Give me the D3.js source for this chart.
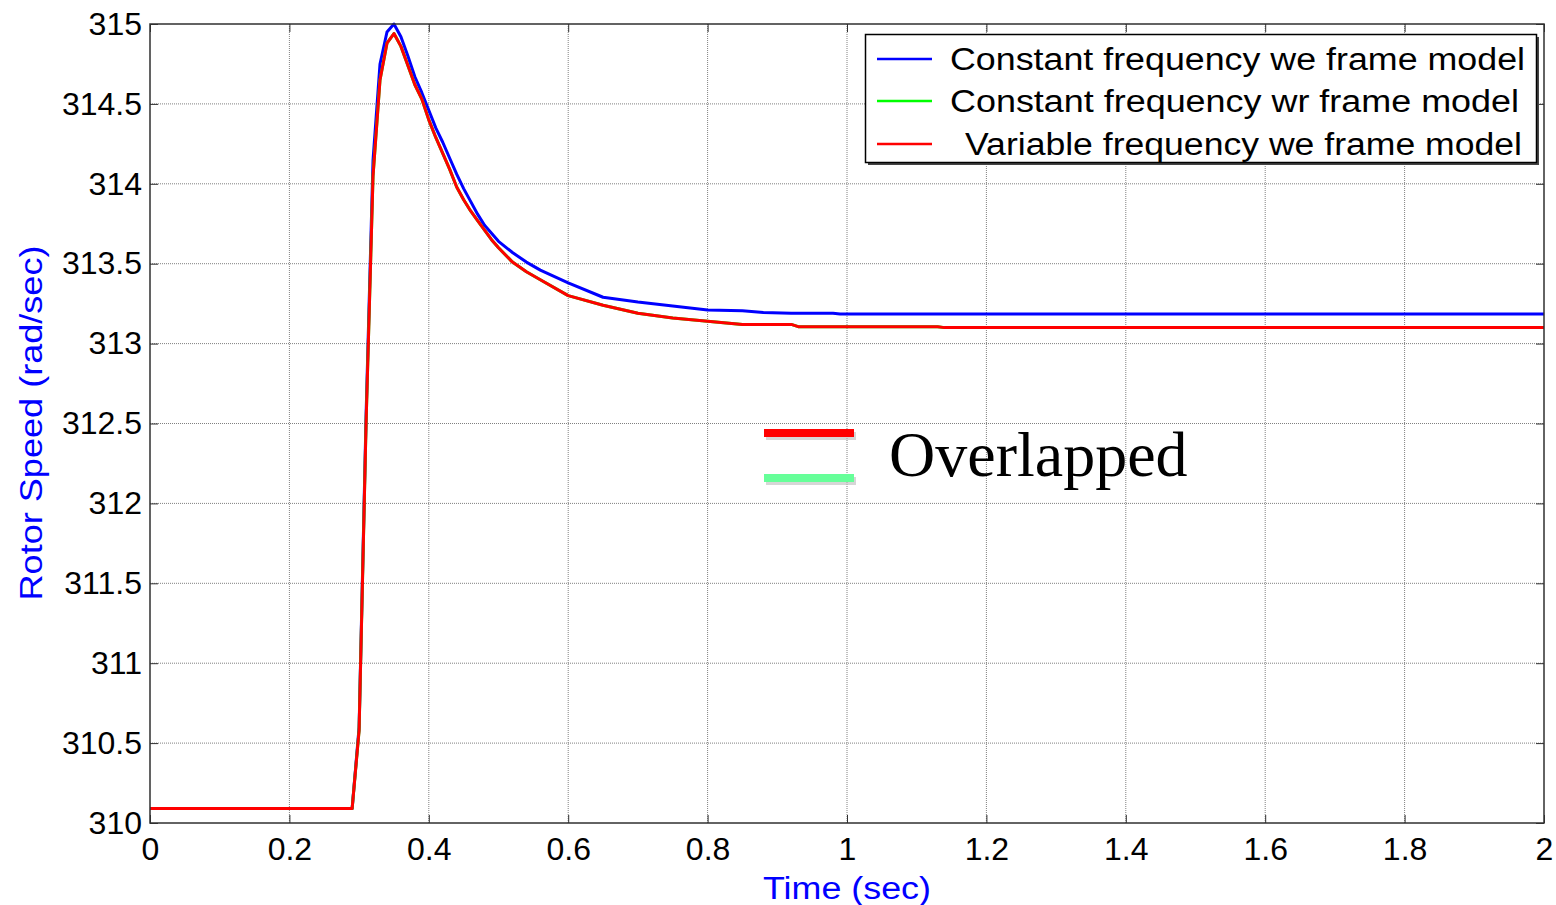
<!DOCTYPE html>
<html>
<head>
<meta charset="utf-8">
<script src="https://cdn.jsdelivr.net/npm/d3@7/dist/d3.min.js"></script>
<style>
  html, body { margin: 0; padding: 0; background: #fff; }
  svg { display: block; }
</style>
</head>
<body>
<svg id="chart" width="1556" height="905"></svg>
<script>
// ---- data ----
const time = [0, 0.29, 0.30, 0.31, 0.32, 0.33, 0.34, 0.35, 0.36, 0.37, 0.38, 0.39, 0.40, 0.41, 0.42, 0.43, 0.44, 0.45, 0.46, 0.47, 0.48, 0.49, 0.50, 0.52, 0.54, 0.56, 0.60, 0.65, 0.70, 0.75, 0.80, 0.85, 0.88, 0.92, 0.93, 0.98, 0.99, 1.13, 1.14, 2.0];
const constWe = [310.09, 310.09, 310.60, 312.55, 314.15, 314.75, 314.95, 315.00, 314.92, 314.80, 314.67, 314.57, 314.46, 314.35, 314.26, 314.16, 314.06, 313.97, 313.89, 313.81, 313.74, 313.69, 313.64, 313.57, 313.51, 313.46, 313.38, 313.29, 313.26, 313.235, 313.21, 313.205, 313.195, 313.19, 313.19, 313.19, 313.185, 313.185, 313.185, 313.185];
const constWr = [310.09, 310.09, 310.58, 312.50, 314.05, 314.65, 314.88, 314.94, 314.86, 314.74, 314.62, 314.53, 314.40, 314.29, 314.19, 314.09, 313.98, 313.90, 313.83, 313.77, 313.71, 313.65, 313.60, 313.51, 313.45, 313.40, 313.30, 313.24, 313.19, 313.16, 313.14, 313.12, 313.12, 313.12, 313.106, 313.106, 313.106, 313.106, 313.10, 313.10];
const varWe   = [310.09, 310.09, 310.58, 312.50, 314.05, 314.65, 314.88, 314.94, 314.86, 314.74, 314.62, 314.53, 314.40, 314.29, 314.19, 314.09, 313.98, 313.90, 313.83, 313.77, 313.71, 313.65, 313.60, 313.51, 313.45, 313.40, 313.30, 313.24, 313.19, 313.16, 313.14, 313.12, 313.12, 313.12, 313.106, 313.106, 313.106, 313.106, 313.10, 313.10];
const seriesNames = ["Constant frequency we frame model", "Constant frequency wr frame model", " Variable frequency we frame model"];
const seriesColors = ["#0000ff", "#00ff00", "#ff0000"];
const xTicks = [0, 0.2, 0.4, 0.6, 0.8, 1, 1.2, 1.4, 1.6, 1.8, 2];
const xTickLabels = ["0", "0.2", "0.4", "0.6", "0.8", "1", "1.2", "1.4", "1.6", "1.8", "2"];
const yTicks = [310, 310.5, 311, 311.5, 312, 312.5, 313, 313.5, 314, 314.5, 315];
const yTickLabels = ["310", "310.5", "311", "311.5", "312", "312.5", "313", "313.5", "314", "314.5", "315"];
const xTitle = "Time (sec)";
const yTitle = "Rotor Speed (rad/sec)";
const noteText = "Overlapped";

// ---- layout ----
const L = 150, R = 1544, T = 24, B = 823;
const svg = d3.select("#chart");
const x = d3.scaleLinear().domain([0, 2]).range([L, R]);
const y = d3.scaleLinear().domain([310, 315]).range([B, T]);
const font = "'Liberation Sans', Arial, sans-serif";

// grid
const grid = svg.append("g");
grid.selectAll("line.vx").data(xTicks.slice(1, -1)).join("line")
  .attr("x1", d => x(d)).attr("x2", d => x(d)).attr("y1", T).attr("y2", B)
  .attr("stroke", "#808080").attr("stroke-width", 1).attr("stroke-dasharray", "1,1");
grid.selectAll("line.hy").data(yTicks.slice(1, -1)).join("line")
  .attr("y1", d => y(d)).attr("y2", d => y(d)).attr("x1", L).attr("x2", R)
  .attr("stroke", "#808080").attr("stroke-width", 1).attr("stroke-dasharray", "1,1");

// lines
const line = d3.line().x((d, i) => x(time[i])).y(d => y(d)).curve(d3.curveLinear);
const allSeries = [constWe, constWr, varWe];
svg.append("g").selectAll("path").data(allSeries).join("path")
  .attr("d", d => line(d))
  .attr("fill", "none")
  .attr("stroke", (d, i) => seriesColors[i])
  .attr("stroke-width", 3)
  .attr("stroke-linejoin", "round");

// axes frame
svg.append("rect").attr("x", L).attr("y", T).attr("width", R - L).attr("height", B - T)
  .attr("fill", "none").attr("stroke", "#303030").attr("stroke-width", 1.5);

const xAxis = d3.axisBottom(x).tickValues(xTicks).tickFormat((d, i) => xTickLabels[i]).tickSizeInner(-8).tickSizeOuter(0).tickPadding(14);
const gx = svg.append("g").attr("transform", `translate(0,${B})`).call(xAxis);
gx.select(".domain").remove();
gx.selectAll(".tick line").attr("stroke", "#303030");
gx.selectAll("text").attr("font-family", font).attr("font-size", 32).attr("fill", "#000");

const xAxisTop = d3.axisTop(x).tickValues(xTicks).tickFormat("").tickSizeInner(-8).tickSizeOuter(0);
const gxt = svg.append("g").attr("transform", `translate(0,${T})`).call(xAxisTop);
gxt.select(".domain").remove();
gxt.selectAll(".tick line").attr("stroke", "#303030");

const yAxis = d3.axisLeft(y).tickValues(yTicks).tickFormat((d, i) => yTickLabels[i]).tickSizeInner(-8).tickSizeOuter(0).tickPadding(8);
const gy = svg.append("g").attr("transform", `translate(${L},0)`).call(yAxis);
gy.select(".domain").remove();
gy.selectAll(".tick line").attr("stroke", "#303030");
gy.selectAll("text").attr("font-family", font).attr("font-size", 32).attr("fill", "#000");

const yAxisRight = d3.axisRight(y).tickValues(yTicks).tickFormat("").tickSizeInner(-8).tickSizeOuter(0);
const gyr = svg.append("g").attr("transform", `translate(${R},0)`).call(yAxisRight);
gyr.select(".domain").remove();
gyr.selectAll(".tick line").attr("stroke", "#303030");

// axis titles
svg.append("text").attr("x", (L + R) / 2).attr("y", 899).attr("text-anchor", "middle")
  .attr("font-family", font).attr("font-size", 31).attr("fill", "#0000ff")
  .attr("textLength", 168).attr("lengthAdjust", "spacingAndGlyphs").text(xTitle);
svg.append("text").attr("transform", `translate(42,${423}) rotate(-90)`).attr("text-anchor", "middle")
  .attr("font-family", font).attr("font-size", 31).attr("fill", "#0000ff")
  .attr("textLength", 355).attr("lengthAdjust", "spacingAndGlyphs").text(yTitle);

// legend
const lg = svg.append("g");
lg.append("rect").attr("x", 868).attr("y", 37).attr("width", 671).attr("height", 128).attr("fill", "#444");
lg.append("rect").attr("x", 865.5).attr("y", 34.5).attr("width", 671).attr("height", 128)
  .attr("fill", "#fff").attr("stroke", "#000").attr("stroke-width", 1.5);
const rowY = [59, 101, 144];
const textStart = [950, 950, 965];
const textLen = [575, 569, 557];
seriesNames.forEach((name, i) => {
  lg.append("line").attr("x1", 877).attr("x2", 932).attr("y1", rowY[i]).attr("y2", rowY[i])
    .attr("stroke", seriesColors[i]).attr("stroke-width", 2.5);
  lg.append("text").attr("x", textStart[i]).attr("y", rowY[i] + 11)
    .attr("font-family", font).attr("font-size", 31).attr("fill", "#000")
    .attr("textLength", textLen[i]).attr("lengthAdjust", "spacingAndGlyphs")
    .text(name.trim());
});

// overlapped annotation
const ann = svg.append("g");
ann.append("rect").attr("x", 766).attr("y", 432).attr("width", 90).attr("height", 8).attr("fill", "#bbb").attr("opacity", 0.6);
ann.append("rect").attr("x", 764).attr("y", 429).attr("width", 90).attr("height", 8).attr("fill", "#ff0000");
ann.append("rect").attr("x", 766).attr("y", 477).attr("width", 90).attr("height", 8).attr("fill", "#bbb").attr("opacity", 0.6);
ann.append("rect").attr("x", 764).attr("y", 474).attr("width", 90).attr("height", 8).attr("fill", "#66ff99");
ann.append("text").attr("x", 889).attr("y", 476)
  .attr("font-family", "'Liberation Serif', 'Times New Roman', serif").attr("font-size", 64)
  .attr("fill", "#000").text(noteText);
</script>
</body>
</html>
